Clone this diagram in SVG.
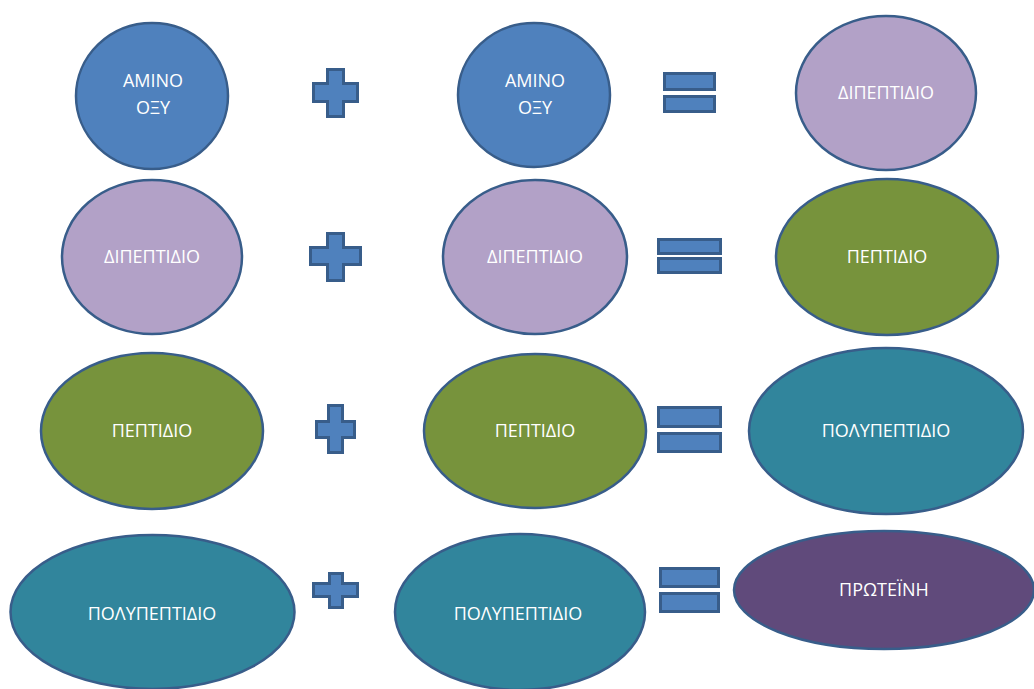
<svg xmlns="http://www.w3.org/2000/svg" width="1034" height="689" viewBox="0 0 1034 689">
<style>
.n{stroke:#385d8a;stroke-width:2.5}
.blue{fill:#4f81bd}
.lilac{fill:#b2a1c7}
.green{fill:#77933c}
.teal{fill:#31859c}
.plum{fill:#604a7b}
.op{fill:#4f81bd;stroke:#385d8a;stroke-width:3}
text{font-family:"Open Sans","Liberation Sans",sans-serif;font-size:18px;fill:#ffffff;text-anchor:middle}
</style>
<rect width="1034" height="689" fill="#ffffff"/>
<g id="row1">
<g id="n1"><ellipse class="n blue" cx="152" cy="96" rx="76" ry="73"/><text x="153" y="87">AMINO</text><text x="153" y="114">ΟΞΥ</text></g>
<g id="plus1"><path class="op" d="M327.5,69.5h16v14h14v18h-14v15h-16v-15h-14v-18h14z"/></g>
<g id="n2"><ellipse class="n blue" cx="534" cy="95" rx="76" ry="72"/><text x="535" y="87">AMINO</text><text x="535" y="114">ΟΞΥ</text></g>
<g id="eq1"><rect class="op" x="664.5" y="73.5" width="50" height="16"/><rect class="op" x="664.5" y="96.5" width="50" height="15"/></g>
<g id="n3"><ellipse class="n lilac" cx="886" cy="93" rx="90" ry="77"/><text x="886" y="99">ΔΙΠΕΠΤΙΔΙΟ</text></g>
</g>
<g id="row2">
<g id="n4"><ellipse class="n lilac" cx="152" cy="257" rx="90" ry="77"/><text x="152" y="263">ΔΙΠΕΠΤΙΔΙΟ</text></g>
<g id="plus2"><path class="op" d="M327.5,233.5h16v14h17v17h-17v16h-16v-16h-17v-17h17z"/></g>
<g id="n5"><ellipse class="n lilac" cx="535" cy="257" rx="92" ry="77"/><text x="535" y="263">ΔΙΠΕΠΤΙΔΙΟ</text></g>
<g id="eq2"><rect class="op" x="658.5" y="239.5" width="62" height="14"/><rect class="op" x="658.5" y="258.5" width="62" height="14"/></g>
<g id="n6"><ellipse class="n green" cx="887" cy="257" rx="111" ry="78"/><text x="887" y="263">ΠΕΠΤΙΔΙΟ</text></g>
</g>
<g id="row3">
<g id="n7"><ellipse class="n green" cx="152" cy="431" rx="111" ry="78"/><text x="152" y="437">ΠΕΠΤΙΔΙΟ</text></g>
<g id="plus3"><path class="op" d="M328.5,405.5h14v16h12v16h-12v15h-14v-15h-12v-16h12z"/></g>
<g id="n8"><ellipse class="n green" cx="535" cy="431" rx="111" ry="77"/><text x="535" y="437">ΠΕΠΤΙΔΙΟ</text></g>
<g id="eq3"><rect class="op" x="658.5" y="407.5" width="62" height="19"/><rect class="op" x="658.5" y="433.5" width="62" height="18"/></g>
<g id="n9"><ellipse class="n teal" cx="886" cy="431" rx="137" ry="83"/><text x="886" y="437">ΠΟΛΥΠΕΠΤΙΔΙΟ</text></g>
</g>
<g id="row4">
<g id="n10"><ellipse class="n teal" cx="152.5" cy="612" rx="142" ry="77"/><text x="152" y="620">ΠΟΛΥΠΕΠΤΙΔΙΟ</text></g>
<g id="plus4"><path class="op" d="M329.5,573.5h13v10h15v13h-15v11h-13v-11h-16v-13h16z"/></g>
<g id="n11"><ellipse class="n teal" cx="520" cy="612" rx="125" ry="78"/><text x="518" y="620">ΠΟΛΥΠΕΠΤΙΔΙΟ</text></g>
<g id="eq4"><rect class="op" x="660.5" y="568.5" width="58" height="18"/><rect class="op" x="660.5" y="593.5" width="58" height="18"/></g>
<g id="n12"><ellipse class="n plum" cx="884" cy="590" rx="150" ry="59"/><text x="884" y="596">ΠΡΩΤΕΪΝΗ</text></g>
</g>
</svg>
